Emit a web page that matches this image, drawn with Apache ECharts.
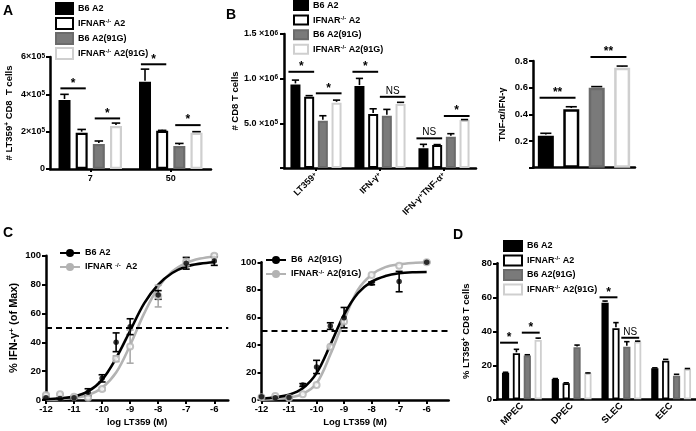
<!DOCTYPE html>
<html>
<head>
<meta charset="utf-8">
<script src="https://cdn.jsdelivr.net/npm/echarts@6/dist/echarts.min.js"></script>
<style>html,body{margin:0;padding:0;background:#fff}#c{width:696px;height:431px}</style>
</head>
<body>
<div id="c"></div>
<script>
// ---------- DATA ----------
const groupNames = ['B6 A2', 'IFNAR-/- A2', 'B6 A2(91G)', 'IFNAR-/- A2(91G)'];

// Panel A: # LT359+ CD8 T cells by day
const aCategories = ['7', '50'];
const aB6A2 = [3.69e5, 4.67e5];
const aIfnA2 = [1.94e5, 2.05e5];
const aB6A2G = [1.34e5, 1.23e5];
const aIfnA2G = [2.30e5, 1.94e5];
const aB6A2Err = [0.31e5, 0.68e5];
const aIfnA2Err = [0.18e5, 0.02e5];
const aB6A2GErr = [0.16e5, 0.14e5];
const aIfnA2GErr = [0.16e5, 0.06e5];
// [category, barFrom, barTo, height, label]
const aBrackets = [[0, 0, 1, 4.32e5, '*'], [0, 2, 3, 2.71e5, '*'], [1, 0, 1, 5.61e5, '*'], [1, 2, 3, 2.35e5, '*']];

// Panel B: # CD8 T cells
const bCategories = ['LT359+', 'IFN-γ+', 'IFN-γ+TNF-α+'];
const bB6A2 = [0.936e6, 0.917e6, 0.220e6];
const bIfnA2 = [0.797e6, 0.604e6, 0.257e6];
const bB6A2G = [0.529e6, 0.585e6, 0.350e6];
const bIfnA2G = [0.730e6, 0.716e6, 0.537e6];
const bB6A2Err = [0.048e6, 0.086e6, 0.045e6];
const bIfnA2Err = [0.013e6, 0.059e6, 0.005e6];
const bB6A2GErr = [0.056e6, 0.071e6, 0.034e6];
const bIfnA2GErr = [0.030e6, 0.019e6, 0.005e6];
const bBrackets = [[0, 0, 1, 1.077e6, '*'], [0, 2, 3, 0.836e6, '*'], [1, 0, 1, 1.077e6, '*'], [1, 2, 3, 0.797e6, 'NS'], [2, 0, 1, 0.332e6, 'NS'], [2, 2, 3, 0.582e6, '*']];

// Panel B right: TNF-α / IFN-γ ratio
const rCategories = [''];
const rB6A2 = [0.240];
const rIfnA2 = [0.438];
const rB6A2G = [0.600];
const rIfnA2G = [0.750];
const rB6A2Err = [0.018];
const rIfnA2Err = [0.019];
const rB6A2GErr = [0.008];
const rIfnA2GErr = [0.012];
const rBrackets = [[0, 0, 1, 0.524, '**'], [0, 2, 3, 0.83, '**']];

// Panel D: % LT359+ CD8 T cells by subset
const dCategories = ['MPEC', 'DPEC', 'SLEC', 'EEC'];
const dB6A2 = [15.6, 11.9, 56.8, 18.2];
const dIfnA2 = [27.1, 9.4, 41.8, 22.7];
const dB6A2G = [25.7, 30.6, 30.9, 13.9];
const dIfnA2G = [34.9, 15.3, 33.9, 17.8];
const dB6A2Err = [0.3, 0.3, 1.0, 0.3];
const dIfnA2Err = [2.3, 0.3, 3.3, 0.8];
const dB6A2GErr = [0.5, 1.3, 3.0, 0.8];
const dIfnA2GErr = [1.1, 0.2, 0.3, 0.3];
const dBrackets = [[0, 0, 1, 33.3, '*'], [0, 2, 3, 39.2, '*'], [2, 0, 1, 60, '*'], [2, 2, 3, 36.2, 'NS']];

// Panel C: dose response, % IFN-γ+ (of max)
const cDoses = [-12, -11.5, -11, -10.5, -10, -9.5, -9, -8, -7, -6];
const cTicks = [-12, -11, -10, -9, -8, -7, -6];
const c1B6A2 = [1.6, 1.1, 1.6, 5.3, 15.0, 40.0, 50.8, 72.8, 94.7, 96.3];
const c1B6A2Err = [0.5, 0.3, 0.5, 2.5, 2.5, 6.5, 5.5, 3.0, 4.0, 3.0];
const c1IfnA2 = [3.5, 3.9, 2.3, 1.6, 7.6, 28.6, 37.0, 72.0, 96.0, 100.0];
const c1IfnA2Err = [0.5, 0.5, 0.5, 0.5, 1.0, 2.0, 11.5, 7.5, 3.0, 1.0];
const c2B6A2G = [2.4, 1.7, 1.9, 10.9, 24.0, 53.7, 59.8, 84.7, 86.0, 100.0];
const c2B6A2GErr = [0.5, 0.5, 0.5, 1.0, 4.8, 2.4, 7.4, 1.0, 7.4, 0.5];
const c2IfnA2G = [2.0, 2.9, 1.5, 4.1, 10.9, 38.7, 57.0, 90.8, 97.5, 100.0];
const c2IfnA2GErr = [0, 0, 0, 0, 0, 0, 0, 0, 0, 0];
// fitted curves
const cFitX = [-12, -11.5, -11, -10.5, -10, -9.5, -9, -8.5, -8, -7.5, -7, -6.5, -6];
const c1B6A2Fit = [0.5, 1.2, 2.5, 6, 14, 29, 48, 67, 80, 88, 92.5, 94.5, 95.5];
const c1IfnA2Fit = [0.2, 0.6, 1.5, 3.5, 8.5, 19, 38, 60, 78, 89, 95, 98, 99.5];
const c2B6A2GFit = [1, 2, 3.8, 8.5, 19.5, 40, 62, 77.5, 86, 90, 92, 92.8, 93];
const c2IfnA2GFit = [0.3, 0.8, 1.8, 4.5, 12, 33, 58, 80, 91, 96.5, 98.5, 99.5, 100];

// ---------- STYLE / LAYOUT ----------
const FONT = 'Liberation Sans, Arial, sans-serif';
const SUP = { s: { fontSize: 6.5, fontWeight: 'bold', fontFamily: FONT, verticalAlign: 'top', lineHeight: 7, color: '#000' } };
const sup = t => t.replace('-/-', '{s|-/-}').replace(/\+/g, '{s|+}');
const barStyles = [
  { color: '#000', borderColor: '#000' },
  { color: '#fff', borderColor: '#000' },
  { color: '#7a7a7a', borderColor: '#6b6b6b' },
  { color: '#fff', borderColor: '#cfcfcf' }
];

const chart = echarts.init(document.getElementById('c'), null, { renderer: 'canvas' });

const grids = [], xAxes = [], yAxes = [], series = [];

function axisLineStyle() { return { show: true, lineStyle: { color: '#000', width: 2.5 } }; }

function barPanel(cfg) {
  const gi = grids.length;
  grids.push(cfg.grid);
  xAxes.push({
    type: 'category', gridIndex: gi, data: cfg.cats,
    axisLine: axisLineStyle(),
    axisTick: { show: cfg.xTick, alignWithLabel: true, length: 3, lineStyle: { width: 2, color: '#000' } },
    axisLabel: Object.assign({ color: '#000', fontFamily: FONT, fontWeight: 'bold', fontSize: cfg.xFont || 9, rich: SUP,
      formatter: v => sup(v) }, cfg.xLabel || {})
  });
  yAxes.push({
    type: 'value', gridIndex: gi, min: 0, max: cfg.yMax, interval: cfg.yInt,
    name: cfg.yName, nameLocation: 'middle', nameGap: cfg.yNameGap,
    nameTextStyle: { color: '#000', fontFamily: FONT, fontWeight: 'bold', fontSize: cfg.yNameFont || 9.5, rich: SUP },
    axisLine: axisLineStyle(), splitLine: { show: false },
    axisTick: { show: true, length: 4, lineStyle: { width: 2, color: '#000' } },
    axisLabel: { color: '#000', fontFamily: FONT, fontWeight: 'bold', fontSize: cfg.yFont || 9, margin: cfg.yMargin || 5, rich: SUP, formatter: cfg.yFmt }
  });
  const L = cfg.layout;
  const step = L.w * (1 + L.gap / 100);
  cfg.means.forEach((m, s) => {
    series.push({
      type: 'bar', name: groupNames[s], xAxisIndex: gi, yAxisIndex: gi, data: m,
      barWidth: L.w, barGap: L.gap + '%',
      itemStyle: Object.assign({ borderWidth: L.border }, barStyles[s]),
      emphasis: { disabled: true }, silent: true
    });
  });
  // error bars (upper)
  const errData = [];
  cfg.means.forEach((m, s) => m.forEach((v, c) => { if (cfg.errs[s][c] > 0) errData.push([c, v, cfg.errs[s][c], s]); }));
  series.push({
    type: 'custom', xAxisIndex: gi, yAxisIndex: gi, data: errData, encode: { x: 0, y: 1 }, silent: true, z: 4, clip: false,
    renderItem(params, api) {
      const c = api.value(0), v = api.value(1), e = api.value(2), s = api.value(3);
      const p0 = api.coord([c, v]), p1 = api.coord([c, v + e]);
      const x = p0[0] + (s - 1.5) * step;
      const cw = (L.w + L.border) * 0.6;
      const st = { stroke: '#000', lineWidth: 1.6 };
      return { type: 'group', children: [
        { type: 'line', shape: { x1: x, y1: p0[1] - L.border / 2, x2: x, y2: p1[1] }, style: st },
        { type: 'line', shape: { x1: x - cw / 2, y1: p1[1], x2: x + cw / 2, y2: p1[1] }, style: st }
      ] };
    }
  });
  // significance brackets
  const br = cfg.brackets;
  series.push({
    type: 'custom', xAxisIndex: gi, yAxisIndex: gi, data: br.map(b => [b[0], b[3]]), encode: { x: 0, y: 1 }, silent: true, z: 5, clip: false,
    renderItem(params, api) {
      const b = br[params.dataIndex];
      const p = api.coord([b[0], b[3]]);
      const vis = L.w + L.border;
      const x1 = p[0] + (b[1] - 1.5) * step - vis / 2 + L.padL;
      const x2 = p[0] + (b[2] - 1.5) * step + vis / 2 + L.padR;
      const star = b[4] !== 'NS';
      return { type: 'group', children: [
        { type: 'line', shape: { x1: x1, y1: p[1], x2: x2, y2: p[1] }, style: { stroke: '#000', lineWidth: 2 } },
        { type: 'text', x: (x1 + x2) / 2, y: star ? p[1] - 5 : p[1] - 1,
          style: { text: b[4], fill: '#000', font: star ? 'bold 12px ' + FONT : '10px ' + FONT, align: 'center', verticalAlign: star ? 'middle' : 'bottom' } }
      ] };
    }
  });
}

// Panel A
barPanel({
  grid: { left: 50, top: 57, width: 161, height: 112 },
  cats: aCategories, xTick: true, xLabel: { margin: 5 },
  means: [aB6A2, aIfnA2, aB6A2G, aIfnA2G], errs: [aB6A2Err, aIfnA2Err, aB6A2GErr, aIfnA2GErr], brackets: aBrackets,
  yMax: 6e5, yInt: 2e5, yName: '# LT359{s|+} CD8  T cells', yNameGap: 36,
  yFmt: v => v === 0 ? '0' : (v / 1e5) + '×10{s|5}',
  layout: { w: 12, gap: 43, border: 2.2, padL: 3, padR: -3 }
});
// Panel B
barPanel({
  grid: { left: 284, top: 34, width: 192, height: 134 },
  cats: bCategories, xTick: true, xLabel: { rotate: 45, margin: 6 },
  means: [bB6A2, bIfnA2, bB6A2G, bIfnA2G], errs: [bB6A2Err, bIfnA2Err, bB6A2GErr, bIfnA2GErr], brackets: bBrackets,
  yMax: 1.5e6, yInt: 0.5e6, yName: '# CD8 T cells', yNameGap: 44, yMargin: 6,
  yFmt: v => v === 0 ? '' : (v >= 1e6 ? (v / 1e6).toFixed(1) + ' ×10{s|6}' : (v / 1e5).toFixed(1) + ' ×10{s|5}'),
  layout: { w: 10, gap: 37, border: 2, padL: -1, padR: -1 }
});
// Panel B ratio
barPanel({
  grid: { left: 533, top: 61, width: 102, height: 106.7 },
  cats: rCategories, xTick: false, xLabel: { show: false },
  means: [rB6A2, rIfnA2, rB6A2G, rIfnA2G], errs: [rB6A2Err, rIfnA2Err, rB6A2GErr, rIfnA2GErr], brackets: rBrackets,
  yMax: 0.8, yInt: 0.2, yName: 'TNF-α/IFN-γ', yNameGap: 26, yFont: 9.5,
  yFmt: v => v === 0 ? '' : v.toFixed(1),
  layout: { w: 16, gap: 59, border: 2.5, padL: 3, padR: -5 }
});
// Panel D
barPanel({
  grid: { left: 497, top: 263.3, width: 199, height: 136 },
  cats: dCategories, xTick: false, xLabel: { rotate: 45, margin: 5, fontSize: 9.5 },
  means: [dB6A2, dIfnA2, dB6A2G, dIfnA2G], errs: [dB6A2Err, dIfnA2Err, dB6A2GErr, dIfnA2GErr], brackets: dBrackets,
  yMax: 80, yInt: 20, yName: '% LT359{s|+} CD8 T cells', yNameGap: 26, yFont: 9.5,
  yFmt: v => String(v),
  layout: { w: 7.2, gap: 51, border: 1.8, padL: -1, padR: -3 }
});

// Dose response panels
function dosePanel(cfg) {
  const gi = grids.length;
  grids.push(cfg.grid);
  xAxes.push({
    type: 'value', gridIndex: gi, min: -12, max: cfg.xMax, interval: 1,
    name: cfg.xName, nameLocation: 'middle', nameGap: 17,
    nameTextStyle: { color: '#000', fontFamily: FONT, fontWeight: 'bold', fontSize: 9.5 },
    axisLine: axisLineStyle(), splitLine: { show: false },
    axisTick: { show: true, length: 4, lineStyle: { width: 2, color: '#000' }, customValues: cTicks },
    axisLabel: { color: '#000', fontFamily: FONT, fontWeight: 'bold', fontSize: 9.5, margin: 4, customValues: cTicks }
  });
  yAxes.push({
    type: 'value', gridIndex: gi, min: 0, max: 100, interval: 20,
    name: cfg.yName, nameLocation: 'middle', nameGap: 27,
    nameTextStyle: { color: '#000', fontFamily: FONT, fontWeight: 'bold', fontSize: 11, rich: { s: { fontSize: 8, fontWeight: 'bold', fontFamily: FONT, verticalAlign: 'top', lineHeight: 8 } } },
    axisLine: axisLineStyle(), splitLine: { show: false },
    axisTick: { show: true, length: 4, lineStyle: { width: 2, color: '#000' } },
    axisLabel: { color: '#000', fontFamily: FONT, fontWeight: 'bold', fontSize: 9.5, margin: 5 }
  });
  const cols = ['#000', '#b3b3b3'];
  // curves (gray drawn first)
  [1, 0].forEach(k => {
    series.push({
      type: 'line', name: cfg.names[k], xAxisIndex: gi, yAxisIndex: gi,
      data: cFitX.map((x, i) => [x, cfg.fits[k][i]]), smooth: 0.35, showSymbol: false,
      symbol: 'circle', symbolSize: 7, silent: true, z: 2,
      lineStyle: { color: cols[k], width: 2.6 }, itemStyle: { color: cols[k] },
      markLine: k === 0 ? { silent: true, symbol: 'none', label: { show: false },
        lineStyle: { color: '#000', width: 2, type: [6, 4] }, data: [{ yAxis: 50 }] } : undefined
    });
  });
  [1, 0].forEach(k => {
    const pts = cDoses.map((x, i) => [x, cfg.pts[k][i], cfg.errs[k][i]]);
    series.push({
      type: 'custom', xAxisIndex: gi, yAxisIndex: gi, data: pts.filter(p => p[2] > 0), encode: { x: 0, y: 1 }, silent: true, z: 3, clip: false,
      renderItem(params, api) {
        const x = api.value(0), y = api.value(1), e = api.value(2);
        const a = api.coord([x, y - e]), b = api.coord([x, y + e]);
        const st = { stroke: k === 0 ? '#000' : '#aaa', lineWidth: 1.6 };
        return { type: 'group', children: [
          { type: 'line', shape: { x1: a[0], y1: a[1], x2: b[0], y2: b[1] }, style: st },
          { type: 'line', shape: { x1: a[0] - 3.5, y1: a[1], x2: a[0] + 3.5, y2: a[1] }, style: st },
          { type: 'line', shape: { x1: b[0] - 3.5, y1: b[1], x2: b[0] + 3.5, y2: b[1] }, style: st }
        ] };
      }
    });
    series.push({
      type: 'scatter', name: cfg.names[k] + ' pts', xAxisIndex: gi, yAxisIndex: gi, silent: true, z: 4, clip: false,
      data: pts.map(p => [p[0], p[1]]),
      symbol: k === 0 ? 'circle' : 'emptyCircle', symbolSize: k === 0 ? 5.5 : 6,
      itemStyle: k === 0 ? { color: '#000' } : { color: '#b3b3b3', borderColor: '#b3b3b3', borderWidth: 1.6 }
    });
  });
}

dosePanel({
  grid: { left: 46, top: 255.7, width: 182.3, height: 144.3 }, xMax: -5.5,
  xName: 'log LT359 (M)', yName: '% IFN-γ{s|+} (of Max)',
  names: ['c1a', 'c1b'], fits: [c1B6A2Fit, c1IfnA2Fit], pts: [c1B6A2, c1IfnA2], errs: [c1B6A2Err, c1IfnA2Err]
});
dosePanel({
  grid: { left: 261.5, top: 262.3, width: 187.2, height: 137.7 }, xMax: -5.2,
  xName: 'Log LT359 (M)', yName: '',
  names: ['c2a', 'c2b'], fits: [c2B6A2GFit, c2IfnA2GFit], pts: [c2B6A2G, c2IfnA2G], errs: [c2B6A2GErr, c2IfnA2GErr]
});

const cLegendText = { c1a: 'B6 A2', c1b: 'IFNAR {s|-/-}  A2', c2a: 'B6  A2(91G)', c2b: 'IFNAR{s|-/-} A2(91G)' };

function barLegend(left, top, iw, ih, gap, names, fs) {
  return {
    left: left, top: top, orient: 'vertical', itemWidth: iw, itemHeight: ih, itemGap: gap, icon: 'rect',
    data: names, selectedMode: false, padding: 0,
    formatter: n => n.replace('-/-', '{s|-/-}'),
    textStyle: { color: '#000', fontFamily: FONT, fontWeight: 'bold', fontSize: fs, lineHeight: ih, rich: { s: { fontSize: 6, fontWeight: 'bold', fontFamily: FONT, verticalAlign: 'top', lineHeight: 6 } } }
  };
}
function lineLegend(left, top, names) {
  return {
    left: left, top: top, orient: 'vertical', itemWidth: 20, itemHeight: 10, itemGap: 4,
    data: names, selectedMode: false, padding: 0,
    formatter: n => cLegendText[n],
    textStyle: { color: '#000', fontFamily: FONT, fontWeight: 'bold', fontSize: 9, lineHeight: 10, rich: { s: { fontSize: 6, fontWeight: 'bold', fontFamily: FONT, verticalAlign: 'top', lineHeight: 6 } } }
  };
}

const titleStyle = { color: '#000', fontFamily: FONT, fontWeight: 'bold', fontSize: 14 };

chart.setOption({
  animation: false,
  backgroundColor: '#fff',
  title: [
    { text: 'A', left: 3, top: 4, textStyle: titleStyle, padding: 0 },
    { text: 'B', left: 226, top: 8, textStyle: titleStyle, padding: 0 },
    { text: 'C', left: 3, top: 226, textStyle: titleStyle, padding: 0 },
    { text: 'D', left: 453, top: 228, textStyle: titleStyle, padding: 0 }
  ],
  legend: [
    barLegend(55, 2, 17, 11, 2, groupNames, 9),
    barLegend(293, 0, 14, 9, 3.6, groupNames, 9),
    barLegend(503, 240, 18, 10, 2.5, groupNames, 9),
    lineLegend(59, 248, ['c1a', 'c1b']),
    lineLegend(265, 255, ['c2a', 'c2b'])
  ],
  grid: grids, xAxis: xAxes, yAxis: yAxes, series: series
});
</script>
</body>
</html>
